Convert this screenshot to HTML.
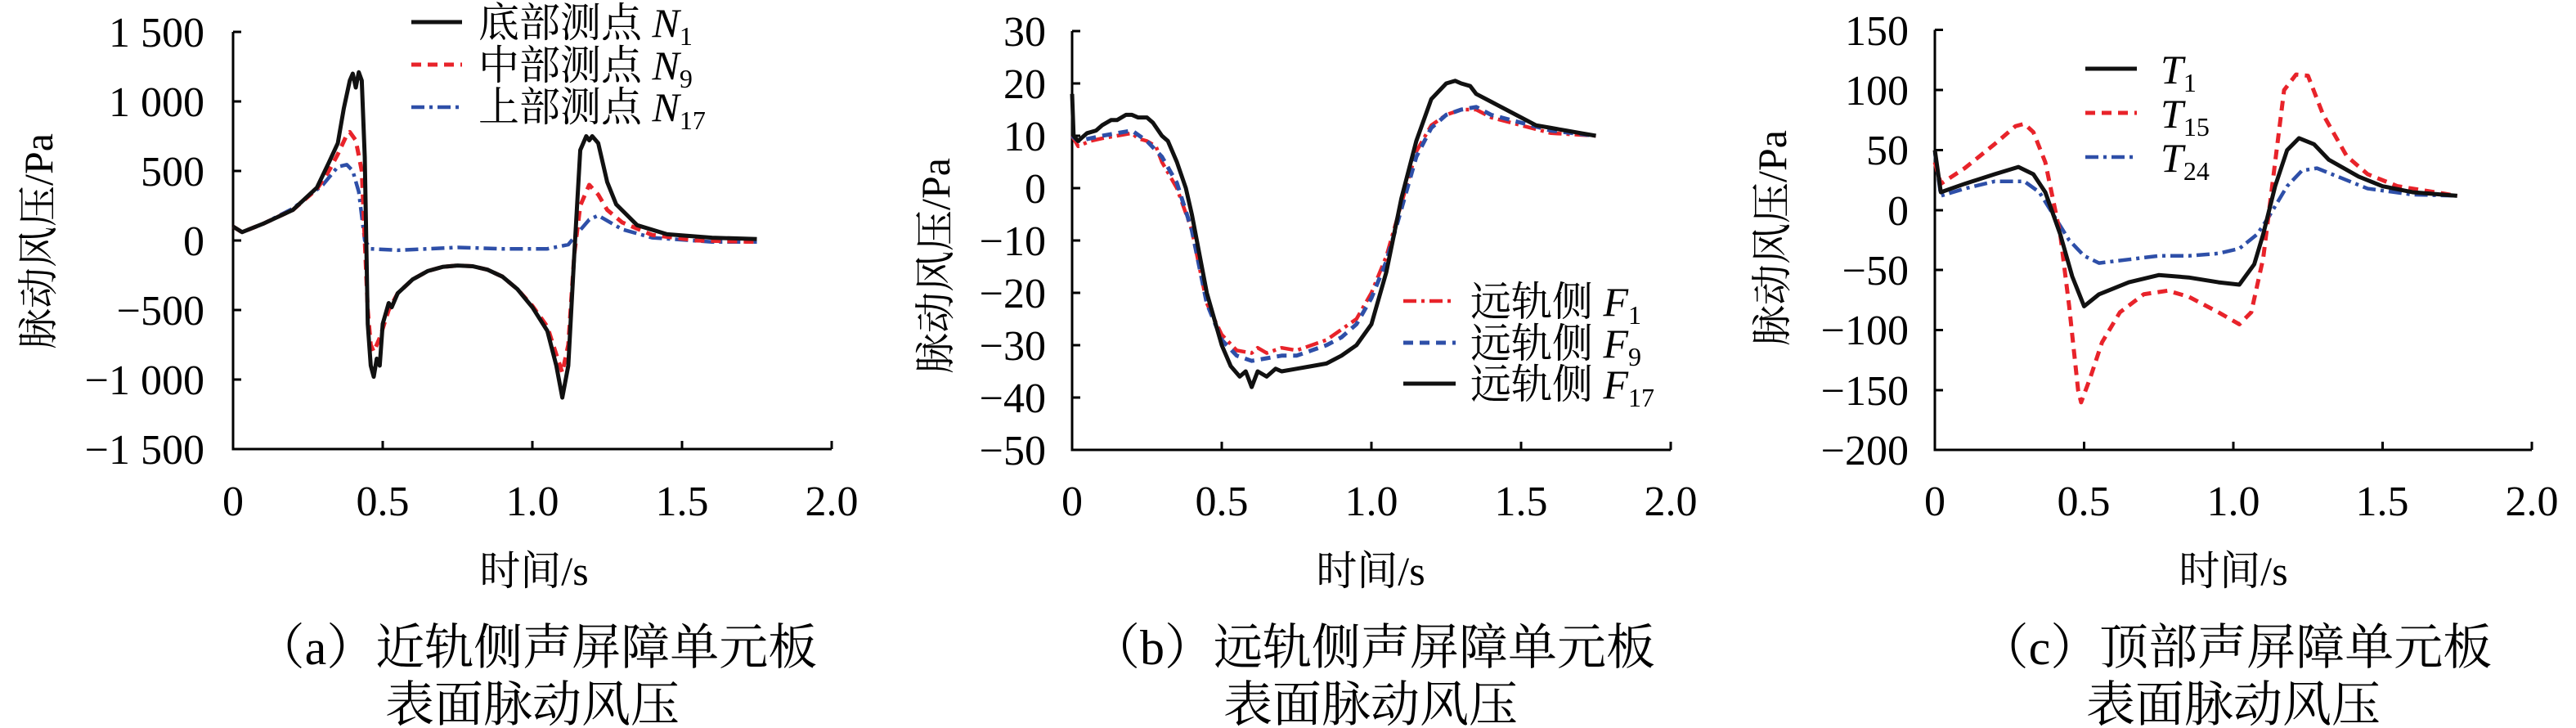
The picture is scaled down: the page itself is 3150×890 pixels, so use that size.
<!DOCTYPE html>
<html><head><meta charset="utf-8"><style>
html,body{margin:0;padding:0;background:#fff}
svg{display:block}
text{font-family:"Liberation Serif","Noto Serif CJK SC",serif;fill:#000}
.t{font-size:52px}
.cj{font-family:"Liberation Serif","Noto Serif CJK SC",serif;font-size:50px}
.cap{font-family:"Liberation Serif","Noto Serif CJK SC",serif;font-size:60px}
.ln{fill:none;stroke-linejoin:round;vector-effect:non-scaling-stroke}
.k{stroke:#111;stroke-width:5}
.r{stroke:#e8232a;stroke-width:5;stroke-dasharray:12 8}
.b{stroke:#2e4fa8;stroke-width:4.5;stroke-dasharray:16 6 4 6}
.rb{stroke:#e8232a;stroke-width:4.5;stroke-dasharray:16 6 4 6}
.bd{stroke:#2e4fa8;stroke-width:5;stroke-dasharray:12 8}
.ax{stroke:#000;stroke-width:3;fill:none}
</style></head><body>
<svg width="3150" height="890" viewBox="0 0 3150 890" xmlns="http://www.w3.org/2000/svg">
<!-- ===== Panel a ===== -->
<g>
<path class="ax" d="M285,39 V549 H1017 M285,39 h10 M285,124 h10 M285,209 h10 M285,294 h10 M285,379 h10 M285,464 h10 M468,549 v-10 M651,549 v-10 M834,549 v-10 M1017,549 v-10"/>
<g class="t" text-anchor="end">
<text x="250" y="57">1 500</text><text x="250" y="142">1 000</text><text x="250" y="227">500</text><text x="250" y="312">0</text><text x="250" y="397">−500</text><text x="250" y="482">−1 000</text><text x="250" y="567">−1 500</text>
</g>
<g class="t" text-anchor="middle">
<text x="285" y="630">0</text><text x="468" y="630">0.5</text><text x="651" y="630">1.0</text><text x="834" y="630">1.5</text><text x="1017" y="630">2.0</text>
</g>
<text class="cj" transform="translate(64,295) rotate(-90)" text-anchor="middle">脉动风压/Pa</text>
<text class="cj" x="653" y="715" font-size="56" text-anchor="middle">时间/s</text>
<text class="cap" x="656" y="812" text-anchor="middle">（a）近轨侧声屏障单元板</text>
<text class="cap" x="651" y="882" text-anchor="middle">表面脉动风压</text>
<g transform="translate(285,294) scale(366,-0.17)">
<polyline class="ln b" points="0,100 0.03,60 0.1,120 0.2,230 0.3,400 0.35,530 0.38,545 0.4,500 0.42,350 0.44,0 0.46,-60 0.55,-70 0.75,-50 0.9,-60 1.05,-60 1.12,-30 1.15,50 1.19,150 1.22,180 1.3,80 1.4,20 1.6,-10 1.75,-10"/>
<polyline class="ln r" points="0,100 0.03,60 0.1,120 0.2,220 0.28,370 0.32,500 0.35,620 0.38,760 0.39,780 0.41,720 0.43,500 0.44,0 0.45,-500 0.46,-750 0.47,-800 0.49,-700 0.52,-500 0.55,-380 0.6,-280 0.65,-220 0.7,-190 0.75,-180 0.8,-185 0.85,-210 0.9,-260 0.95,-350 1.0,-470 1.05,-620 1.08,-820 1.1,-950 1.12,-750 1.14,-100 1.16,250 1.19,400 1.22,330 1.25,220 1.3,130 1.4,40 1.55,0 1.75,-10"/>
<polyline class="ln k" points="0,100 0.03,60 0.1,120 0.2,220 0.28,380 0.32,560 0.35,700 0.37,950 0.39,1150 0.40,1200 0.41,1100 0.42,1210 0.43,1150 0.44,600 0.45,-600 0.46,-900 0.47,-980 0.48,-850 0.49,-900 0.5,-600 0.52,-450 0.53,-480 0.55,-380 0.6,-280 0.65,-220 0.7,-190 0.75,-180 0.8,-185 0.85,-210 0.9,-260 0.95,-350 1.0,-480 1.05,-650 1.08,-900 1.1,-1130 1.12,-900 1.14,-100 1.16,650 1.18,750 1.19,720 1.2,750 1.22,700 1.25,420 1.28,260 1.35,110 1.45,45 1.6,20 1.75,10"/>
</g>
<line class="ln k" x1="503" y1="27" x2="565" y2="27"/>
<line class="ln r" x1="503" y1="79" x2="565" y2="79"/>
<line class="ln b" x1="503" y1="131" x2="565" y2="131"/>
<g class="cj" font-size="52">
<text x="585" y="45">底部测点 <tspan font-style="italic">N</tspan><tspan font-size="32" dy="10">1</tspan></text>
<text x="585" y="97">中部测点 <tspan font-style="italic">N</tspan><tspan font-size="32" dy="10">9</tspan></text>
<text x="585" y="148">上部测点 <tspan font-style="italic">N</tspan><tspan font-size="32" dy="10">17</tspan></text>
</g>
</g>
<!-- ===== Panel b ===== -->
<g>
<path class="ax" d="M1311,38 V550 H2043 M1311,38 h10 M1311,102 h10 M1311,166 h10 M1311,230 h10 M1311,294 h10 M1311,358 h10 M1311,422 h10 M1311,486 h10 M1494,550 v-10 M1677,550 v-10 M1860,550 v-10 M2043,550 v-10"/>
<g class="t" text-anchor="end">
<text x="1279" y="56">30</text><text x="1279" y="120">20</text><text x="1279" y="184">10</text><text x="1279" y="248">0</text><text x="1279" y="312">−10</text><text x="1279" y="376">−20</text><text x="1279" y="440">−30</text><text x="1279" y="504">−40</text><text x="1279" y="568">−50</text>
</g>
<g class="t" text-anchor="middle">
<text x="1311" y="630">0</text><text x="1494" y="630">0.5</text><text x="1677" y="630">1.0</text><text x="1860" y="630">1.5</text><text x="2043" y="630">2.0</text>
</g>
<text class="cj" transform="translate(1161,325) rotate(-90)" text-anchor="middle">脉动风压/Pa</text>
<text class="cj" x="1676" y="715" font-size="56" text-anchor="middle">时间/s</text>
<text class="cap" x="1679" y="812" text-anchor="middle">（b）远轨侧声屏障单元板</text>
<text class="cap" x="1676" y="882" text-anchor="middle">表面脉动风压</text>
<g transform="translate(1311,230) scale(366,-6.4)">
<polyline class="ln rb" points="0,10 0.02,8 0.06,9 0.1,9.5 0.15,10 0.2,10.5 0.22,9.5 0.25,9 0.28,8 0.3,5 0.35,0 0.4,-8 0.45,-22 0.5,-28 0.55,-31 0.6,-31.5 0.62,-30.5 0.65,-31.5 0.7,-30.5 0.75,-31 0.8,-30 0.85,-29 0.9,-27 0.95,-25 1.0,-20 1.05,-13 1.1,-3 1.15,7 1.2,12 1.25,14 1.3,15 1.35,15 1.4,13.5 1.5,12 1.6,10.5 1.75,10"/>
<polyline class="ln bd" points="0,10 0.02,9 0.1,10 0.15,10.5 0.2,11 0.25,9 0.3,6 0.35,1 0.4,-8 0.45,-22 0.5,-29 0.55,-32 0.6,-33 0.65,-32.5 0.7,-32 0.75,-32 0.8,-31 0.85,-30 0.9,-28.5 0.95,-26 1.0,-21 1.05,-14 1.1,-4 1.15,6 1.2,11.5 1.25,14 1.3,15 1.35,15.5 1.4,14 1.5,12.5 1.6,11 1.75,10"/>
<polyline class="ln k" points="0,18 0.005,10 0.02,9 0.05,10.5 0.08,11 0.1,12 0.13,13 0.15,13 0.18,14 0.2,14 0.22,13.5 0.25,13.5 0.27,12.5 0.3,10 0.32,9 0.35,5 0.38,0 0.4,-5 0.45,-20 0.5,-30 0.53,-34 0.56,-36 0.58,-35 0.6,-38 0.62,-35 0.65,-36 0.68,-34.5 0.7,-35 0.75,-34.5 0.8,-34 0.85,-33.5 0.9,-32 0.95,-30 1.0,-26 1.05,-16 1.1,-2 1.15,9 1.2,17 1.25,20 1.28,20.5 1.3,20 1.33,19.5 1.35,18 1.4,16.5 1.45,15 1.5,13.5 1.55,12 1.6,11.5 1.65,11 1.7,10.5 1.75,10"/>
</g>
<line class="ln rb" x1="1716" y1="368" x2="1780" y2="368"/>
<line class="ln bd" x1="1716" y1="419" x2="1780" y2="419"/>
<line class="ln k" x1="1716" y1="469" x2="1780" y2="469"/>
<g class="cj" font-size="52">
<text x="1798" y="386">远轨侧 <tspan font-style="italic">F</tspan><tspan font-size="32" dy="10">1</tspan></text>
<text x="1798" y="437">远轨侧 <tspan font-style="italic">F</tspan><tspan font-size="32" dy="10">9</tspan></text>
<text x="1798" y="487">远轨侧 <tspan font-style="italic">F</tspan><tspan font-size="32" dy="10">17</tspan></text>
</g>
</g>
<!-- ===== Panel c ===== -->
<g>
<path class="ax" d="M2366,36.5 V550 H3096 M2366,36.5 h10 M2366,110 h10 M2366,183.5 h10 M2366,257 h10 M2366,330 h10 M2366,403.5 h10 M2366,477 h10 M2548.5,550 v-10 M2731,550 v-10 M2913.5,550 v-10 M3096,550 v-10"/>
<g class="t" text-anchor="end">
<text x="2334" y="55">150</text><text x="2334" y="128">100</text><text x="2334" y="201">50</text><text x="2334" y="275">0</text><text x="2334" y="348">−50</text><text x="2334" y="421">−100</text><text x="2334" y="495">−150</text><text x="2334" y="568">−200</text>
</g>
<g class="t" text-anchor="middle">
<text x="2366" y="630">0</text><text x="2548" y="630">0.5</text><text x="2731" y="630">1.0</text><text x="2913" y="630">1.5</text><text x="3096" y="630">2.0</text>
</g>
<text class="cj" transform="translate(2184,291) rotate(-90)" text-anchor="middle">脉动风压/Pa</text>
<text class="cj" x="2731" y="715" font-size="56" text-anchor="middle">时间/s</text>
<text class="cap" x="2734" y="812" text-anchor="middle">（c）顶部声屏障单元板</text>
<text class="cap" x="2731" y="882" text-anchor="middle">表面脉动风压</text>
<g transform="translate(2366,257) scale(365,-1.468)">
<polyline class="ln b" points="0,48 0.02,12 0.1,18 0.2,24 0.3,24 0.35,15 0.4,-5 0.45,-25 0.5,-38 0.55,-44 0.65,-41 0.75,-38 0.85,-38 0.95,-36 1.02,-32 1.08,-20 1.12,-5 1.18,20 1.23,33 1.28,35 1.35,28 1.45,18 1.6,13 1.75,12"/>
<polyline class="ln r" points="0,40 0.02,22 0.1,35 0.2,55 0.27,70 0.3,72 0.33,65 0.37,40 0.42,-20 0.45,-80 0.48,-150 0.49,-160 0.52,-140 0.56,-110 0.62,-85 0.7,-70 0.78,-67 0.85,-72 0.95,-85 1.02,-95 1.06,-85 1.1,-40 1.14,40 1.17,100 1.21,113 1.25,112 1.3,80 1.38,45 1.45,30 1.55,20 1.75,12"/>
<polyline class="ln k" points="0,50 0.02,15 0.1,22 0.2,30 0.28,36 0.33,30 0.37,15 0.42,-20 0.46,-55 0.5,-80 0.55,-70 0.65,-60 0.75,-54 0.85,-56 0.95,-60 1.02,-62 1.07,-45 1.1,-20 1.14,20 1.18,50 1.22,60 1.27,55 1.32,42 1.42,28 1.5,20 1.6,15 1.75,12"/>
</g>
<line class="ln k" x1="2550" y1="84" x2="2613" y2="84"/>
<line class="ln r" x1="2550" y1="138" x2="2613" y2="138"/>
<line class="ln b" x1="2550" y1="192" x2="2613" y2="192"/>
<g class="cj" font-size="54">
<text x="2642" y="102"><tspan font-style="italic">T</tspan><tspan font-size="32" dy="10">1</tspan></text>
<text x="2642" y="156"><tspan font-style="italic">T</tspan><tspan font-size="32" dy="10">15</tspan></text>
<text x="2642" y="210"><tspan font-style="italic">T</tspan><tspan font-size="32" dy="10">24</tspan></text>
</g>
</g>
</svg>
</body></html>
